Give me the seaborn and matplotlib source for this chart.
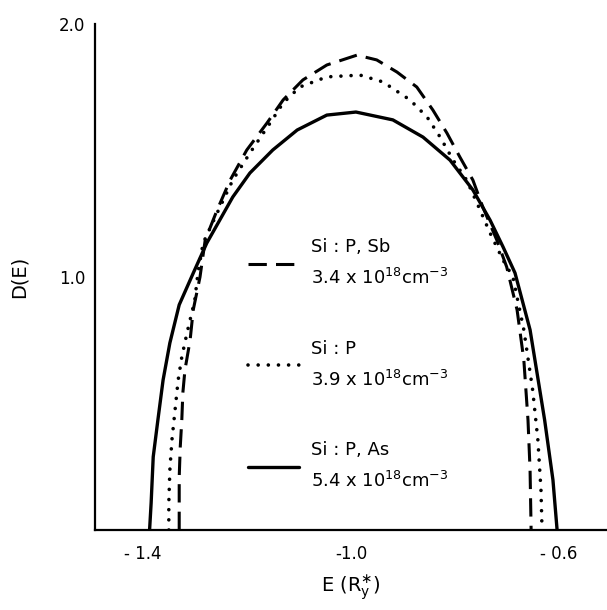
import matplotlib
matplotlib.use("Agg")
import matplotlib.pyplot as plt
import matplotlib.transforms as mtrans
import seaborn as sns

# ---- data ----
sb_x = [-1.340, -1.340, -1.338, -1.335, -1.333, -1.329, -1.319, -1.313, -1.300, -1.290,
        -1.267, -1.242, -1.210, -1.171, -1.140, -1.102, -1.056, -0.998, -0.960, -0.921,
        -0.883, -0.852, -0.825, -0.800, -0.775, -0.756, -0.729, -0.710, -0.690, -0.677,
        -0.669, -0.665, -0.663]
sb_d = [0.0, 0.209, 0.328, 0.435, 0.542, 0.632, 0.751, 0.870, 1.000, 1.146,
        1.265, 1.383, 1.502, 1.609, 1.700, 1.779, 1.838, 1.877, 1.858, 1.810,
        1.751, 1.660, 1.569, 1.474, 1.383, 1.277, 1.146, 1.040, 0.870, 0.672,
        0.435, 0.237, 0.0]

p_x = [-1.360, -1.360, -1.358, -1.354, -1.348, -1.342, -1.335, -1.325, -1.310, -1.304,
       -1.294, -1.267, -1.237, -1.204, -1.165, -1.140, -1.108, -1.056, -0.992, -0.948,
       -0.896, -0.863, -0.838, -0.813, -0.787, -0.767, -0.742, -0.717, -0.698, -0.677,
       -0.660, -0.650, -0.644, -0.642]
p_d = [0.0, 0.107, 0.237, 0.356, 0.474, 0.593, 0.684, 0.779, 0.909, 1.016,
       1.134, 1.253, 1.383, 1.490, 1.609, 1.688, 1.751, 1.791, 1.798, 1.771,
       1.700, 1.632, 1.553, 1.462, 1.383, 1.292, 1.174, 1.067, 1.000, 0.791,
       0.553, 0.356, 0.158, 0.0]

as_x = [-1.397, -1.394, -1.390, -1.381, -1.371, -1.358, -1.340, -1.312, -1.287, -1.262,
        -1.237, -1.204, -1.160, -1.113, -1.056, -1.000, -0.929, -0.871, -0.819, -0.775,
        -0.742, -0.717, -0.694, -0.665, -0.637, -0.621, -0.613]
as_d = [0.0, 0.107, 0.289, 0.435, 0.593, 0.739, 0.890, 1.020, 1.134, 1.225,
        1.316, 1.411, 1.502, 1.581, 1.640, 1.652, 1.621, 1.553, 1.462, 1.344,
        1.225, 1.119, 1.016, 0.791, 0.435, 0.198, 0.0]

series_labels = ["Si : P, Sb\n3.4 x 10$^{18}$cm$^{-3}$",
                 "Si : P\n3.9 x 10$^{18}$cm$^{-3}$",
                 "Si : P, As\n5.4 x 10$^{18}$cm$^{-3}$"]

xtick_vals = [-1.4, -1.2, -1.0, -0.8, -0.6]
xtick_labels = ["- 1.4", "", "-1.0", "", "- 0.6"]
ytick_vals = [1.0, 2.0]
ytick_labels = ["1.0", "2.0"]

# ---- plot ----
sns.set_style("white")
plt.rcParams["font.family"] = ["DejaVu Sans"]
plt.rcParams["mathtext.default"] = "regular"
plt.rcParams["text.color"] = "black"
plt.rcParams["axes.labelcolor"] = "black"
plt.rcParams["xtick.color"] = "black"
plt.rcParams["ytick.color"] = "black"

fig = plt.figure(figsize=(6.07, 6.10), dpi=100)
ax = fig.add_axes([95 / 607, 1 - 530 / 610, 512 / 607, (530 - 24) / 610])

sns.lineplot(x=sb_x, y=sb_d, ax=ax, sort=False, estimator=None, color="black",
             lw=2.2, linestyle=(0, (6, 3)), label=series_labels[0])
sns.lineplot(x=p_x, y=p_d, ax=ax, sort=False, estimator=None, color="black",
             lw=2.6, linestyle=(0, (0.01, 2.8)), dash_capstyle="round",
             label=series_labels[1])
sns.lineplot(x=as_x, y=as_d, ax=ax, sort=False, estimator=None, color="black",
             lw=2.4, linestyle="-", label=series_labels[2])

ax.set_xlim(-1.502, -0.517)
ax.set_ylim(0, 2.0)

for s in ["top", "right"]:
    ax.spines[s].set_visible(False)
for s in ["left", "bottom"]:
    ax.spines[s].set_linewidth(1.6)
    ax.spines[s].set_color("black")

ax.set_xticks(xtick_vals)
ax.set_xticklabels(xtick_labels, fontsize=12)
ax.set_yticks(ytick_vals)
ax.set_yticklabels(ytick_labels, fontsize=12)
ax.tick_params(axis="x", direction="in", length=7, width=1.5, pad=11)
ax.tick_params(axis="y", direction="in", length=8, width=1.5, pad=7)

shift = mtrans.ScaledTranslation(-5 / 100, 0, fig.dpi_scale_trans)
for lab in ax.get_xticklabels():
    lab.set_transform(lab.get_transform() + shift)

ax.set_xlabel("E (R$_y^{\\ast}$)", fontsize=14, labelpad=7)
ax.set_ylabel("D(E)", fontsize=14, labelpad=22)

leg = ax.legend(loc="upper left", bbox_to_anchor=((248 - 95) / 512, 1 - (238 - 24) / 506),
                frameon=False, fontsize=13, handlelength=2.8, handletextpad=0.7,
                labelspacing=2.85, borderpad=0, borderaxespad=0)
for line in leg.get_lines():
    line.set_color("black")
for t in leg.get_texts():
    t.set_linespacing(1.75)

fig.savefig("out.png", dpi=100)
